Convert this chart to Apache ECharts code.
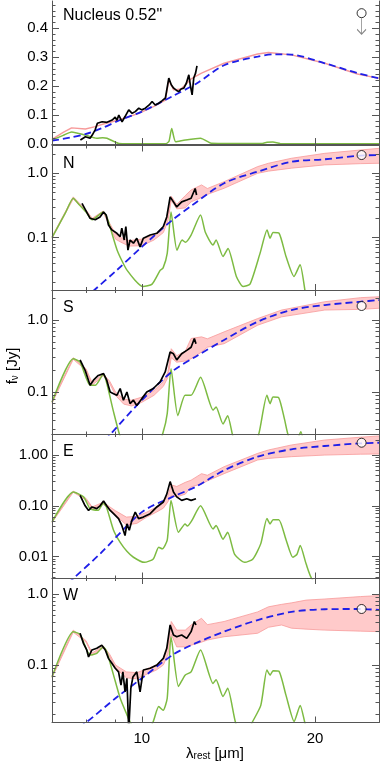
<!DOCTYPE html>
<html>
<head>
<meta charset="utf-8">
<script src="https://cdn.jsdelivr.net/npm/echarts@6/dist/echarts.min.js"></script>
<style>
  html, body { margin: 0; padding: 0; background: #fff; }
  #chart { width: 382px; height: 764px; }
</style>
</head>
<body>
<div id="chart"></div>
<script>
// wavelength in micron (rest frame), flux density in Jy

// --- Nucleus 0.52" (linear panel)
var nucBlack = [[7.82,0.014],[7.98,0.025],[8.13,0.02],[8.2,0.031],[8.3,0.05],[8.37,0.072],[8.53,0.077],[8.7,0.075],[8.88,0.083],[8.99,0.093],[9.05,0.082],[9.12,0.10],[9.24,0.077],[9.35,0.095],[9.49,0.118],[9.62,0.106],[9.74,0.112],[9.88,0.124],[10.0,0.118],[10.14,0.124],[10.3,0.135],[10.42,0.147],[10.55,0.135],[10.7,0.141],[10.85,0.15],[10.99,0.159],[11.14,0.228],[11.25,0.205],[11.36,0.193],[11.48,0.186],[11.59,0.181],[11.7,0.19],[11.83,0.193],[11.95,0.21],[12.07,0.239],[12.15,0.2],[12.23,0.17],[12.31,0.228],[12.4,0.245],[12.47,0.27]];
var nucModel = [[6.98,0.016],[7.3,0.04],[7.55,0.056],[7.98,0.052],[8.3,0.06],[8.6,0.07],[9.12,0.083],[9.88,0.106],[10.5,0.13],[10.99,0.152],[11.14,0.221],[11.36,0.187],[11.7,0.19],[12.18,0.225],[12.7,0.245],[13.9,0.279],[15.9,0.311],[16.6,0.316],[18.2,0.308],[20.8,0.279],[23.7,0.242],[25.84,0.227]];
var nucGreen = [[6.98,0.014],[7.3,0.03],[7.55,0.042],[7.98,0.031],[8.35,0.02],[8.55,0.022],[8.7,0.02],[9.12,0.002],[9.5,0.001],[11.0,0.001],[11.15,0.01],[11.27,0.054],[11.45,0.008],[11.9,0.014],[12.65,0.02],[13.2,0.003],[16.2,0.002],[16.5,0.006],[16.9,0.007],[17.4,0.002],[25.84,0.001]];
var nucBlue = [[6.98,0.012],[7.5,0.022],[8.0,0.035],[8.5,0.054],[9.17,0.083],[10.0,0.112],[11.3,0.165],[12.47,0.21],[13.9,0.272],[15.9,0.302],[17.1,0.31],[18.2,0.309],[20.8,0.279],[23.7,0.245],[25.84,0.227]];
var nucPoint = [[24.1,0.452]];

// --- N
var nBlack = [[7.87,0.34],[8.02,0.25],[8.13,0.20],[8.30,0.19],[8.46,0.21],[8.58,0.25],[8.67,0.225],[8.75,0.157],[8.87,0.132],[9.05,0.117],[9.17,0.104],[9.23,0.14],[9.32,0.092],[9.38,0.149],[9.46,0.064],[9.54,0.092],[9.67,0.082],[9.80,0.098],[9.93,0.072],[10.06,0.098],[10.34,0.11],[10.62,0.117],[10.90,0.149],[11.05,0.21],[11.20,0.43],[11.35,0.36],[11.50,0.30],[11.73,0.36],[11.97,0.385],[12.18,0.41],[12.38,0.58],[12.45,0.46]];
var nGreen = [[6.98,0.10],[7.36,0.24],[7.6,0.41],[7.75,0.34],[8.0,0.25],[8.2,0.19],[8.57,0.25],[8.71,0.20],[9.06,0.064],[9.43,0.031],[10.05,0.0174],[10.42,0.019],[10.76,0.031],[10.89,0.034],[11.07,0.057],[11.24,0.25],[11.51,0.064],[11.75,0.092],[11.9,0.085],[12.18,0.11],[12.65,0.225],[12.9,0.12],[13.3,0.077],[13.46,0.092],[13.84,0.051],[14.12,0.068],[14.6,0.025],[15.0,0.0174],[15.42,0.019],[16.05,0.057],[16.51,0.132],[16.71,0.098],[16.91,0.12],[17.32,0.117],[17.81,0.051],[18.39,0.025],[18.84,0.038],[19.3,0.012],[20.0,0.004],[25.84,0.0005]];
var nBlue = [[6.98,0.0039],[8.27,0.0154],[9.0,0.030],[10.0,0.072],[11.3,0.188],[12.18,0.31],[13.9,0.70],[15.9,1.06],[18.2,1.51],[20.8,1.65],[24.0,1.88],[25.84,1.92]];
var nBand = [[6.98,0.098,0.104],[7.6,0.40,0.43],[8.0,0.25,0.27],[8.2,0.19,0.20],[8.57,0.245,0.26],[8.8,0.15,0.165],[9.0,0.095,0.115],[9.2,0.085,0.10],[9.5,0.074,0.09],[10.0,0.075,0.095],[10.5,0.092,0.11],[10.9,0.12,0.145],[11.1,0.18,0.22],[11.25,0.38,0.44],[11.5,0.28,0.33],[11.9,0.29,0.45],[12.18,0.36,0.55],[12.7,0.42,0.66],[13.0,0.47,0.58],[13.9,0.585,0.74],[15.9,1.0,1.27],[16.6,1.08,1.43],[18.2,1.2,1.71],[20.8,1.35,2.04],[24.0,1.41,2.3],[25.84,1.43,2.44]];
var nPoint = [[24.1,1.92]];

// --- S
var sBlack = [[7.81,0.28],[7.97,0.20],[8.13,0.124],[8.24,0.146],[8.40,0.17],[8.58,0.18],[8.69,0.146],[8.81,0.10],[8.93,0.095],[9.05,0.09],[9.17,0.112],[9.29,0.077],[9.42,0.10],[9.54,0.069],[9.67,0.077],[9.80,0.065],[10.0,0.081],[10.2,0.10],[10.47,0.112],[10.76,0.138],[10.98,0.19],[11.20,0.36],[11.35,0.34],[11.50,0.28],[11.73,0.34],[11.97,0.38],[12.18,0.42],[12.34,0.555],[12.42,0.47]];
var sGreen = [[6.98,0.072],[7.6,0.29],[7.81,0.26],[8.13,0.124],[8.3,0.124],[8.57,0.175],[8.68,0.138],[8.93,0.053],[9.17,0.024],[9.6,0.01],[10.3,0.008],[10.89,0.0277],[11.07,0.05],[11.24,0.21],[11.55,0.047],[11.89,0.09],[12.18,0.09],[12.65,0.16],[13.3,0.056],[13.46,0.062],[13.84,0.036],[14.1,0.047],[14.4,0.024],[15.0,0.009],[15.5,0.012],[16.0,0.0277],[16.5,0.09],[16.71,0.069],[16.91,0.085],[17.3,0.083],[17.7,0.042],[18.0,0.024],[18.5,0.02],[18.9,0.028],[19.3,0.012],[20.0,0.004],[25.84,0.0005]];
var sBlue = [[6.98,0.0035],[8.0,0.011],[8.81,0.0257],[10.0,0.077],[11.3,0.194],[12.4,0.31],[13.9,0.53],[15.9,0.95],[18.2,1.38],[20.8,1.62],[24.0,1.80],[25.84,1.9]];
var sBand = [[6.98,0.070,0.074],[7.6,0.285,0.30],[8.0,0.20,0.21],[8.2,0.124,0.134],[8.57,0.17,0.18],[8.8,0.13,0.14],[9.0,0.09,0.10],[9.3,0.068,0.08],[9.6,0.064,0.077],[10.0,0.072,0.085],[10.5,0.09,0.105],[10.9,0.12,0.14],[11.1,0.16,0.19],[11.25,0.30,0.40],[11.5,0.26,0.32],[11.9,0.27,0.37],[12.18,0.29,0.555],[12.7,0.36,0.585],[13.0,0.42,0.55],[13.9,0.47,0.686],[15.9,0.85,1.05],[17.5,1.11,1.38],[20.8,1.38,1.80],[24.0,1.41,2.05],[25.84,1.46,2.11]];
var sPoint = [[24.1,1.57]];

// --- E
var eBlack = [[7.81,0.16],[7.97,0.10],[8.08,0.081],[8.19,0.095],[8.35,0.088],[8.46,0.10],[8.58,0.124],[8.69,0.10],[8.81,0.081],[8.93,0.07],[9.11,0.056],[9.23,0.041],[9.35,0.026],[9.42,0.044],[9.51,0.033],[9.61,0.052],[9.74,0.075],[9.87,0.056],[10.06,0.06],[10.34,0.07],[10.62,0.095],[10.90,0.119],[11.05,0.17],[11.20,0.30],[11.35,0.187],[11.50,0.15],[11.73,0.128],[11.97,0.138],[12.18,0.128],[12.42,0.138]];
var eGreen = [[6.98,0.048],[7.6,0.187],[7.92,0.15],[8.13,0.088],[8.4,0.082],[8.57,0.113],[8.68,0.095],[8.93,0.033],[9.17,0.019],[9.42,0.0127],[9.67,0.0097],[10.1,0.0077],[10.47,0.009],[10.7,0.0153],[10.85,0.0142],[11.07,0.021],[11.24,0.128],[11.58,0.030],[11.89,0.044],[12.0,0.040],[12.2,0.05],[12.65,0.10],[13.3,0.035],[13.46,0.041],[13.84,0.022],[14.1,0.030],[14.5,0.011],[15.1,0.0077],[15.6,0.009],[16.1,0.018],[16.5,0.056],[16.71,0.044],[16.91,0.053],[17.3,0.053],[17.8,0.022],[18.3,0.0097],[18.6,0.011],[18.85,0.0165],[19.3,0.0072],[19.8,0.0035],[25.84,0.0002]];
var eBlue = [[6.98,0.0015],[7.6,0.0037],[8.46,0.0113],[10.0,0.075],[11.3,0.15],[12.4,0.236],[13.9,0.50],[15.9,0.93],[18.2,1.30],[20.8,1.51],[24.0,1.70],[25.84,1.75]];
var eBand = [[6.98,0.047,0.05],[7.6,0.185,0.195],[8.0,0.13,0.14],[8.2,0.088,0.095],[8.57,0.108,0.118],[8.8,0.085,0.095],[9.0,0.066,0.08],[9.4,0.042,0.06],[9.8,0.045,0.062],[10.2,0.06,0.075],[10.6,0.075,0.095],[10.9,0.09,0.12],[11.1,0.12,0.16],[11.25,0.16,0.26],[11.5,0.15,0.24],[11.9,0.17,0.29],[12.18,0.236,0.32],[12.7,0.27,0.43],[13.0,0.31,0.40],[13.9,0.43,0.59],[15.9,0.80,1.08],[16.6,0.86,1.26],[18.2,0.93,1.58],[20.8,1.0,1.98],[24.0,1.04,2.25],[25.84,1.05,2.38]];
var ePoint = [[24.1,1.75]];

// --- W
var wBlack = [[7.81,0.28],[7.92,0.20],[8.02,0.163],[8.08,0.13],[8.19,0.163],[8.35,0.172],[8.52,0.19],[8.64,0.163],[8.75,0.124],[8.87,0.106],[8.99,0.09],[9.11,0.08],[9.20,0.052],[9.27,0.08],[9.35,0.042],[9.42,0.065],[9.49,0.012],[9.57,0.047],[9.65,0.068],[9.80,0.08],[9.93,0.042],[10.06,0.085],[10.34,0.09],[10.62,0.10],[10.90,0.124],[11.05,0.172],[11.20,0.366],[11.35,0.265],[11.50,0.25],[11.73,0.265],[11.97,0.237],[12.18,0.295],[12.34,0.41],[12.42,0.366]];
var wGreen = [[6.98,0.068],[7.6,0.295],[7.81,0.27],[8.13,0.138],[8.35,0.146],[8.57,0.18],[8.69,0.154],[8.93,0.072],[9.17,0.034],[9.42,0.02],[9.54,0.0158],[10.0,0.009],[10.45,0.0155],[10.7,0.026],[10.89,0.023],[11.07,0.034],[11.24,0.25],[11.58,0.05],[11.89,0.072],[12.18,0.08],[12.65,0.163],[13.3,0.055],[13.46,0.062],[13.84,0.036],[14.1,0.047],[14.55,0.0155],[15.0,0.009],[15.55,0.0155],[16.1,0.027],[16.5,0.085],[16.71,0.072],[16.91,0.083],[17.3,0.082],[17.8,0.038],[18.4,0.016],[18.85,0.027],[19.2,0.0155],[19.8,0.006],[25.84,0.0005]];
var wBlue = [[6.98,0.007],[8.0,0.0155],[9.0,0.034],[10.0,0.065],[11.3,0.138],[12.18,0.19],[13.9,0.295],[15.9,0.43],[18.2,0.56],[20.8,0.61],[24.0,0.615],[25.84,0.595]];
var wBand = [[6.98,0.066,0.07],[7.6,0.29,0.31],[8.0,0.21,0.22],[8.2,0.138,0.148],[8.57,0.175,0.185],[8.8,0.13,0.14],[9.0,0.09,0.10],[9.4,0.066,0.08],[9.8,0.064,0.078],[10.2,0.074,0.088],[10.6,0.085,0.10],[10.9,0.10,0.125],[11.1,0.14,0.18],[11.25,0.27,0.41],[11.5,0.18,0.31],[11.9,0.18,0.31],[12.18,0.19,0.366],[12.7,0.21,0.455],[13.0,0.225,0.37],[13.9,0.25,0.41],[15.9,0.28,0.56],[16.6,0.34,0.66],[17.5,0.366,0.715],[18.2,0.33,0.75],[19.3,0.32,0.82],[20.8,0.31,0.85],[24.0,0.30,0.92],[25.84,0.295,0.95]];
var wPoint = [[24.1,0.615]];

// x axis ticks (micron)
var xMajorTicks = [10, 20];
var xMinorTicks = [8, 9];
var xRange = [6.98, 25.84];

var FONT = '"Liberation Sans", Arial, sans-serif';
var AXIS_COLOR = '#555';
var PINK_FILL = '#ffcaca';
var PINK_EDGE = '#f79a9a';
var GREEN = '#7dbb42';
var BLUE = '#1f1fe8';

var lg = Math.log10;
// log panels are plotted as log10(f) + LOG_SHIFT (keeps area fills pointing down to the axis)
var LOG_SHIFT = 6;

var panels = [
  { label: 'Nucleus 0.52"', labelDy: 7, log: false, range: [-0.005, 0.494], major: [0, 0.1, 0.2, 0.3, 0.4], digits: 1,
    black: nucBlack, model: nucModel, green: nucGreen, blue: nucBlue, point: nucPoint, upper: true },
  { label: 'N', labelDy: 10, log: true, range: [0.0154, 2.70], major: [0.1, 1], digits: 1,
    black: nBlack, band: nBand, green: nGreen, blue: nBlue, point: nPoint },
  { label: 'S', labelDy: 10, log: true, range: [0.0257, 2.62], major: [0.1, 1], digits: 1,
    black: sBlack, band: sBand, green: sGreen, blue: sBlue, point: sPoint },
  { label: 'E', labelDy: 10, log: true, range: [0.0037, 2.60], major: [0.01, 0.1, 1], digits: 2,
    black: eBlack, band: eBand, green: eGreen, blue: eBlue, point: ePoint },
  { label: 'W', labelDy: 10, log: true, range: [0.0155, 1.68], major: [0.1, 1], digits: 1,
    black: wBlack, band: wBand, green: wGreen, blue: wBlue, point: wPoint }
];

var GRID_TOP = [1, 145.5, 290, 434, 578];
var GRID_H = 144.5;

function minorTicks(p, tf) {
  var out = [];
  if (p.log) {
    for (var e = -4; e <= 1; e++) {
      for (var k = 2; k <= 9; k++) {
        var v = k * Math.pow(10, e);
        if (v > p.range[0] && v < p.range[1]) out.push(tf(v));
      }
    }
  } else {
    for (var j = 0; j <= 25; j++) {
      var w = j * 0.02;
      if (j % 5 !== 0 && w > p.range[0] && w < p.range[1]) out.push(w);
    }
  }
  return out;
}

var grids = [], xAxes = [], yAxes = [], series = [], graphics = [];

panels.forEach(function (p, i) {
  var tf = p.log ? function (v) { return lg(Math.max(v, 1e-6)) + LOG_SHIFT; } : function (v) { return v; };
  var inv = p.log ? function (t) { return Math.pow(10, t - LOG_SHIFT); } : function (t) { return t; };
  var conv = function (arr, col) {
    return arr.map(function (d) { return [lg(d[0]), tf(d[col || 1])]; });
  };
  var yMin = tf(p.range[0]), yMax = tf(p.range[1]);
  var majors = p.major.map(tf);
  var minors = minorTicks(p, tf);

  grids.push({ left: 52, right: 3, top: GRID_TOP[i], height: GRID_H, outerBoundsMode: 'none' });

  var lineStyle = { color: AXIS_COLOR, width: 1 };
  ['bottom', 'top'].forEach(function (pos) {
    xAxes.push({
      gridIndex: i, type: 'value', position: pos, min: lg(xRange[0]), max: lg(xRange[1]), z: 10,
      axisLine: { show: true, lineStyle: lineStyle },
      axisTick: { show: true, inside: true, length: 6, lineStyle: lineStyle, customValues: xMajorTicks.map(lg) },
      axisLabel: {
        show: pos === 'bottom' && i === panels.length - 1, customValues: xMajorTicks.map(lg),
        margin: 9, color: '#000', fontSize: 15, fontFamily: FONT,
        formatter: function (v) { return String(Math.round(Math.pow(10, v))); }
      },
      splitLine: { show: false }
    });
    xAxes.push({
      gridIndex: i, type: 'value', position: pos, min: lg(xRange[0]), max: lg(xRange[1]), z: 10,
      axisLine: { show: false },
      axisTick: { show: true, inside: true, length: 3, lineStyle: lineStyle, customValues: xMinorTicks.map(lg) },
      axisLabel: { show: false }, splitLine: { show: false }
    });
  });
  ['left', 'right'].forEach(function (pos) {
    yAxes.push({
      gridIndex: i, type: 'value', position: pos, min: yMin, max: yMax, z: 10,
      axisLine: { show: true, lineStyle: lineStyle },
      axisTick: { show: true, inside: true, length: 7, lineStyle: lineStyle, customValues: majors },
      axisLabel: {
        show: pos === 'left', customValues: majors, margin: 4, color: '#000', fontSize: 15, fontFamily: FONT,
        formatter: function (v) { return inv(v).toFixed(p.digits); }
      },
      splitLine: { show: false }
    });
    yAxes.push({
      gridIndex: i, type: 'value', position: pos, min: yMin, max: yMax, z: 10,
      axisLine: { show: false },
      axisTick: { show: true, inside: true, length: 3.5, lineStyle: lineStyle, customValues: minors },
      axisLabel: { show: false }, splitLine: { show: false }
    });
  });

  var ax = { xAxisIndex: i * 4, yAxisIndex: i * 4 };

  if (p.band) {
    // upper edge filled pink down to the axis, then lower edge filled white on top of it
    series.push(Object.assign({
      type: 'line', symbol: 'none', silent: true, z: 1,
      lineStyle: { color: PINK_EDGE, width: 0.8 },
      areaStyle: { color: PINK_FILL, opacity: 1, origin: 'start' },
      data: conv(p.band, 2)
    }, ax));
    series.push(Object.assign({
      type: 'line', symbol: 'none', silent: true, z: 1,
      lineStyle: { color: PINK_EDGE, width: 0.8 },
      areaStyle: { color: '#fff', opacity: 1, origin: 'start' },
      data: conv(p.band, 1)
    }, ax));
  }
  if (p.model) {
    series.push(Object.assign({
      type: 'line', symbol: 'none', silent: true, z: 1,
      lineStyle: { color: PINK_EDGE, width: 1.4 }, data: conv(p.model)
    }, ax));
  }
  series.push(Object.assign({
    type: 'line', symbol: 'none', silent: true, z: 2, smooth: 0.2,
    lineStyle: { color: GREEN, width: 1.5 }, data: conv(p.green)
  }, ax));
  series.push(Object.assign({
    type: 'line', symbol: 'none', silent: true, z: 3, smooth: 0.3,
    lineStyle: { color: BLUE, width: 1.8, type: [7, 4] }, data: conv(p.blue)
  }, ax));
  series.push(Object.assign({
    type: 'line', symbol: 'none', silent: true, z: 4,
    lineStyle: { color: '#000', width: 1.7 }, data: conv(p.black)
  }, ax));
  if (p.upper) {
    series.push(Object.assign({
      type: 'scatter', silent: true, z: 5,
      symbol: 'path://M5,0L5,20M1,14L5,20L9,14', symbolSize: [9, 16], symbolOffset: [0, 13],
      itemStyle: { color: 'rgba(0,0,0,0)', borderColor: '#666', borderWidth: 1 },
      data: conv(p.point)
    }, ax));
  }
  series.push(Object.assign({
    type: 'scatter', silent: true, z: 6, symbol: 'circle', symbolSize: 9,
    itemStyle: { color: '#fff', borderColor: '#000', borderWidth: 1 },
    data: conv(p.point)
  }, ax));

  graphics.push({
    type: 'text', x: 63, y: GRID_TOP[i] + p.labelDy, silent: true, z: 20,
    style: { text: p.label, fill: '#000', fontSize: 16, fontFamily: FONT, verticalAlign: 'top' }
  });
});

var rich = {
  a: { fontSize: 15, fontFamily: FONT, color: '#000', lineHeight: 15, verticalAlign: 'top' },
  b: { fontSize: 10, fontFamily: FONT, color: '#000', lineHeight: 10, padding: [8, 0, 0, 0], verticalAlign: 'bottom' }
};
graphics.push({
  type: 'text', x: 215, y: 754, silent: true,
  style: { text: '{a|λ}{b|rest}{a| [μm]}', rich: rich, align: 'center', verticalAlign: 'middle' }
});
graphics.push({
  type: 'text', x: 13, y: 366, rotation: Math.PI / 2, silent: true,
  style: { text: '{a|f}{b|ν}{a| [Jy]}', rich: rich, align: 'center', verticalAlign: 'middle' }
});

var chart = echarts.init(document.getElementById('chart'), null, { renderer: 'canvas' });
chart.setOption({
  animation: false,
  backgroundColor: '#fff',
  grid: grids,
  xAxis: xAxes,
  yAxis: yAxes,
  series: series,
  graphic: graphics
});
</script>
</body>
</html>
